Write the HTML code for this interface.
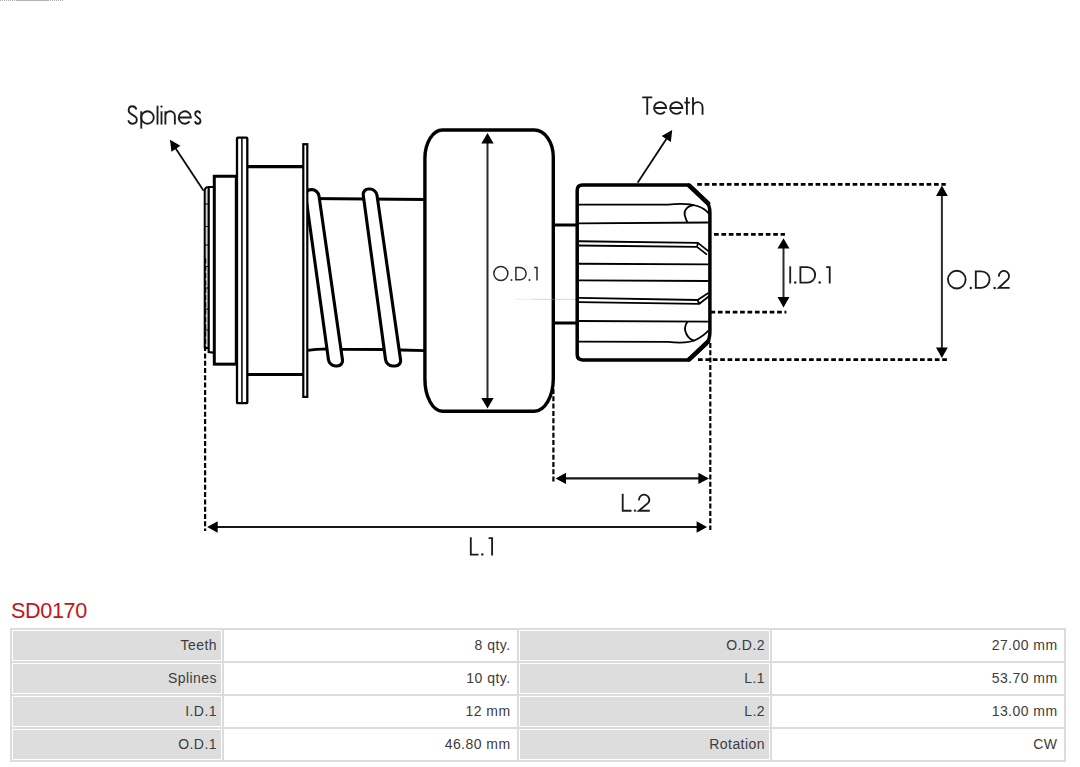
<!DOCTYPE html>
<html><head><meta charset="utf-8"><title>SD0170</title>
<style>
html,body{margin:0;padding:0;background:#fff;}
body{width:1080px;height:767px;position:relative;overflow:hidden;font-family:"Liberation Sans",sans-serif;}
svg{position:absolute;left:0;top:0;}
.title{position:absolute;left:11px;top:598.5px;font-size:21.6px;line-height:24px;color:#c4141a;letter-spacing:-0.35px;white-space:nowrap;}
table{position:absolute;left:10px;top:628px;width:1056px;border:1px solid #dcdcdc;border-spacing:0;border-collapse:separate;table-layout:fixed;font-size:14px;color:#3c3c3c;}
td{box-sizing:border-box;height:33px;border:1px solid #dcdcdc;padding:0 6.5px 1px 0;text-align:right;background:#fff;box-shadow:inset 0 0 0 1px #fff;white-space:nowrap;letter-spacing:0.45px;}
td.k{background:#dddddd;padding-right:5px;}
</style></head>
<body>
<svg width="1080" height="600" viewBox="0 0 1080 600">
<line x1="0" y1="0.5" x2="64" y2="0.5" stroke="#a8a8a8" stroke-width="1" stroke-dasharray="1 1"/><line x1="16" y1="0.5" x2="48" y2="0.5" stroke="#b5b0ab" stroke-width="1"/>

<!-- splined end -->
<rect x="205.4" y="190" width="2.6" height="158" fill="#d4d4d4"/>
<path d="M204.7,348.3 V191.2 Q204.7,187 209,187 H213.5" fill="none" stroke="#000" stroke-width="2"/>
<path d="M208.7,188 V352 L213.5,352.6 M204,348 H208.7" fill="none" stroke="#000" stroke-width="2.2"/>
<path d="M204.7,204h4 M204.7,226.5h4 M204.7,245h4 M204.7,266.5h4 M204.7,288h4 M204.7,309h4 M204.7,330h4" stroke="#000" stroke-width="1.1"/>
<!-- collar -->
<rect x="214.3" y="176.25" width="22" height="187.9" fill="#fff" stroke="#000" stroke-width="3"/>
<!-- hub -->
<path d="M248,166.7 H303 M248,374.5 H303" stroke="#000" stroke-width="3.2" fill="none"/>
<!-- flange 1 -->
<rect x="237" y="137.6" width="10.3" height="265.6" rx="0.8" fill="#fff" stroke="#000" stroke-width="2.3"/>
<line x1="241.9" y1="138" x2="241.9" y2="403" stroke="#111" stroke-width="1.6"/>
<!-- shaft lines -->
<path d="M308,198.4 L425,199.4" stroke="#000" stroke-width="3" fill="none"/>
<path d="M308,350.4 C314,349 320,348.8 328,348.8 L343,349.3 L384,349.5 L401,350 L425,350.7" stroke="#000" stroke-width="2.8" fill="none"/>
<!-- coils -->
<path d="M328.47,359.75 L305.72,195.85 C305.25,192.44 307.65,189.65 311.06,189.65 L311.89,189.65 C315.3,189.65 318.49,192.44 318.98,195.85 L342.46,359.75 C342.95,363.16 340.56,365.95 337.15,365.95 L335.53,365.95 C332.12,365.95 328.94,363.16 328.47,359.75 Z" fill="#fff" stroke="#000" stroke-width="3.1" stroke-linejoin="round"/>
<path d="M385.57,359.75 L363.28,195.25 C362.81,191.84 365.23,189.05 368.64,189.05 L369.91,189.05 C373.32,189.05 376.51,191.84 377,195.25 L400.56,359.75 C401.05,363.16 398.66,365.95 395.25,365.95 L392.61,365.95 C389.2,365.95 386.03,363.16 385.57,359.75 Z" fill="#fff" stroke="#000" stroke-width="3.1" stroke-linejoin="round"/>
<!-- flange 2 -->
<rect x="303.3" y="144.2" width="4" height="252.7" fill="#fff" stroke="#000" stroke-width="2.2"/>
<!-- body -->
<path d="M442.5,130 H534.3 A19,27 0 0 1 553.3,157 V378.5 A19,32.7 0 0 1 534.3,411.2 H442.4 A17.5,32.2 0 0 1 424.9,379 V158.5 A17.6,28.5 0 0 1 442.5,130 Z" fill="#fff" stroke="#000" stroke-width="3.4"/>
<!-- faint guide line -->
<line x1="516" y1="299.3" x2="531" y2="299.3" stroke="#9fb0d0" stroke-width="1" stroke-dasharray="1 1.5" opacity="0.5"/>
<line x1="531" y1="299.3" x2="576" y2="299.3" stroke="#9aa8c4" stroke-width="1" opacity="0.45"/>
<!-- neck -->
<path d="M553,225 H577 M553,322.9 H577" stroke="#000" stroke-width="3" fill="none"/>
<!-- pinion -->
<path d="M582.5,185 L689,185 L706,201 Q709.9,204.8 709.9,213 L709.9,332 Q709.9,340.2 706,344 L689,359.9 L582.5,359.9 Q577.2,359.9 577.2,354.6 L577.2,190.3 Q577.2,185 582.5,185 Z" fill="#fff" stroke="#000" stroke-width="3.5" stroke-linejoin="round"/>
<clipPath id="pc"><rect x="570" y="183.25" width="141.65" height="178.4"/></clipPath>
<path d="M689.2,185.6 L708,203.4 M689.2,359.3 L708,341.6" stroke="#000" stroke-width="4.6" fill="none" stroke-linecap="round" clip-path="url(#pc)"/>
<g fill="none" stroke="#000" stroke-width="1.8" stroke-linejoin="round">
<path d="M579,204.6 L668,204.6 C688,202.6 702,204.5 708.6,213.5"/>
<path d="M694,205 C686.5,206 683.6,211 684.8,215.5 C685.8,219 686.6,221 687.5,222.6"/>
<path d="M579,223.3 L708.4,222.5"/>
<path d="M579,241.25 L698,242.9 L708.6,251.4 M579,245.5 L697,246.9 L707,254.6 M698,242.9 L697,246.9"/>
<path d="M579,263.75 L708.4,264.4"/>
<path d="M579,280.4 L708.4,281"/>
<path d="M579,297.9 L697.5,300 L708.4,293 M579,302.2 L699.4,303.8 L709,296.2 M697.5,300 L699.4,303.8"/>
<path d="M579,321 L708.4,321.6"/>
<path d="M579,341.6 L668,341.8 C680,343.2 690,343 697,339.2 C702,336.5 705.5,334 708.4,330.5"/>
<path d="M687.5,321.5 C685,325 684.4,330 686.4,334 C688.4,338 691,340 694.5,340.6"/>
</g>

<line x1="697.2" y1="184.3" x2="945.8" y2="184.3" stroke="#000" stroke-width="2.75" stroke-dasharray="4.7 2.7"/>
<line x1="698" y1="359.5" x2="947" y2="359.5" stroke="#000" stroke-width="2.75" stroke-dasharray="4.7 2.7"/>
<line x1="714" y1="234.3" x2="785" y2="234.3" stroke="#000" stroke-width="2.75" stroke-dasharray="4.7 2.7"/>
<line x1="710.5" y1="312" x2="786.4" y2="312" stroke="#000" stroke-width="2.75" stroke-dasharray="4.7 2.7"/>
<line x1="205.1" y1="258.5" x2="205.1" y2="531" stroke="#000" stroke-width="2.2" stroke-dasharray="5 2.3"/>
<line x1="553.4" y1="389" x2="553.4" y2="483" stroke="#000" stroke-width="2.2" stroke-dasharray="5 2.3"/>
<line x1="710.3" y1="343" x2="710.3" y2="530" stroke="#000" stroke-width="2.2" stroke-dasharray="5 2.3"/>
<line x1="487.5" y1="142.6" x2="487.5" y2="399" stroke="#2b2b2b" stroke-width="2"/><polygon points="487.5,408.5 481.3,398 493.7,398" fill="#000"/><polygon points="487.5,133.1 493.7,143.6 481.3,143.6" fill="#000"/>
<line x1="941.9" y1="195" x2="941.9" y2="348.5" stroke="#2b2b2b" stroke-width="2"/><polygon points="941.9,357.9 936,347.5 947.8,347.5" fill="#000"/><polygon points="941.9,185.6 947.8,196 936,196" fill="#000"/>
<line x1="783.5" y1="247.6" x2="783.5" y2="298.1" stroke="#2b2b2b" stroke-width="2"/><polygon points="783.5,307.4 777.5,297.1 789.5,297.1" fill="#000"/><polygon points="783.5,238.3 789.5,248.6 777.5,248.6" fill="#000"/>
<line x1="565" y1="478.4" x2="699.4" y2="478.4" stroke="#161616" stroke-width="2.1"/><polygon points="708.9,478.4 698.4,484.1 698.4,472.7" fill="#000"/><polygon points="555.5,478.4 566,472.7 566,484.1" fill="#000"/>
<line x1="216.7" y1="527" x2="697.6" y2="527" stroke="#161616" stroke-width="2.1"/><polygon points="707.1,527 696.6,532.8 696.6,521.2" fill="#000"/><polygon points="207.2,527 217.7,521.2 217.7,532.8" fill="#000"/>
<line x1="203.6" y1="190.8" x2="175.39" y2="147.94" stroke="#0a0a0a" stroke-width="1.8"/><polygon points="170,139.75 180.45,145.8 171.43,151.74" fill="#000"/>
<line x1="637.6" y1="182.8" x2="666.83" y2="138.2" stroke="#0a0a0a" stroke-width="1.8"/><polygon points="672.2,130 670.88,142.05 661.68,136.02" fill="#000"/>
<g fill="none" stroke="#1c1c1c" color="#1c1c1c" stroke-width="1.85" stroke-linecap="butt" stroke-linejoin="miter"><path d="M136.38,109.58 C135.78,107.3 134.25,106.25 132.38,106.25 C130,106.25 128.64,108 128.64,110.45 C128.64,112.72 130.34,113.78 132.55,114.83 C135.1,116.05 136.8,117.1 136.8,119.55 C136.8,122.17 134.93,123.75 132.55,123.75 C130.34,123.75 128.81,122.35 128.3,120.25"/><path d="M141.25,111.25 V128.6"/><ellipse cx="147.5" cy="117.5" rx="6.25" ry="6.25"/><path d="M157.5,105.65 V124.55"/><path d="M161.5,111.25 V124.55"/><circle cx="161.5" cy="106.6" r="1.15" fill="currentColor" stroke="none"/><path d="M165.4,111.25 V124.55 M165.4,115.97 A4.72,4.72 0 0 1 174.85,115.97 V124.55"/><path d="M178.75,117.5 H190.85 A6.05,6.25 0 1 0 189.57,121.35"/><path d="M200.22,113.62 C199.84,112 198.85,111.25 197.64,111.25 C196.1,111.25 195.22,112.5 195.22,114.25 C195.22,115.88 196.32,116.62 197.75,117.38 C199.4,118.25 200.5,119 200.5,120.75 C200.5,122.62 199.29,123.75 197.75,123.75 C196.32,123.75 195.33,122.75 195,121.25"/></g>
<g fill="none" stroke="#1c1c1c" color="#1c1c1c" stroke-width="1.85" stroke-linecap="butt" stroke-linejoin="miter"><path d="M642.2,97.35 H652.3 M647.25,97.35 V114.65"/><path d="M654.05,108 H666.15 A6.05,5.85 0 1 0 664.87,111.6"/><path d="M670.15,108 H682.35 A6.1,5.85 0 1 0 681.06,111.6"/><path d="M686.9,97.35 V114.65 M684.3,102.6 H689.9"/><path d="M693,97.35 V114.65 M693,106.92 A4.77,4.77 0 0 1 702.55,106.92 V114.65"/></g>
<g fill="none" stroke="#1c1c1c" color="#1c1c1c" stroke-width="1.85" stroke-linecap="butt" stroke-linejoin="miter"><ellipse cx="956.8" cy="279.6" rx="8.85" ry="8.85"/><circle cx="970.8" cy="287.9" r="1.25" fill="currentColor" stroke="none"/><path d="M975.8,271.3 H981.3 A8.25,8.25 0 0 1 981.3,287.8 H975.8 Z"/><circle cx="994.6" cy="287.9" r="1.25" fill="currentColor" stroke="none"/><path d="M998.9,276.6 A5.1,5.1 0 1 1 1008.02,279.14 L998.8,287.8 H1009.6"/></g>
<g fill="none" stroke="#1c1c1c" color="#1c1c1c" stroke-width="1.85" stroke-linecap="butt" stroke-linejoin="miter"><path d="M790.2,266.35 V283.45"/><circle cx="795.2" cy="282.5" r="1.2" fill="currentColor" stroke="none"/><path d="M800.4,267.15 H807.4 A7.75,7.75 0 0 1 807.4,282.65 H800.4 Z"/><circle cx="819.7" cy="282.5" r="1.2" fill="currentColor" stroke="none"/><path d="M826.2,267.15 H829.7 V283.45"/></g>
<g fill="none" stroke="#2a2a2a" color="#2a2a2a" stroke-width="1.5" stroke-linecap="butt" stroke-linejoin="miter"><ellipse cx="500.85" cy="273.5" rx="7" ry="7"/><circle cx="511.5" cy="280.1" r="1" fill="currentColor" stroke="none"/><path d="M515.9,267.5 H519.95 A6.15,6.15 0 0 1 519.95,279.8 H515.9 Z"/><circle cx="529.5" cy="280.1" r="1" fill="currentColor" stroke="none"/><path d="M534.2,267.5 H537 V280.5"/></g>
<g fill="none" stroke="#1c1c1c" color="#1c1c1c" stroke-width="1.85" stroke-linecap="butt" stroke-linejoin="miter"><path d="M622.7,493.7 V510.75 H631.5"/><circle cx="635" cy="510.6" r="1.2" fill="currentColor" stroke="none"/><path d="M639,500.35 A5.15,5.15 0 1 1 648.21,502.92 L638.9,510.75 H649.8"/></g>
<g fill="none" stroke="#1c1c1c" color="#1c1c1c" stroke-width="1.85" stroke-linecap="butt" stroke-linejoin="miter"><path d="M470.8,537.3 V554.55 H478.5"/><circle cx="482.3" cy="554.4" r="1.2" fill="currentColor" stroke="none"/><path d="M488.6,538.1 H492.1 V555.4"/></g>
</svg>
<div class="title">SD0170</div>
<table>
<colgroup><col style="width:212px"><col style="width:295px"><col style="width:253px"><col style="width:294px"></colgroup>
<tr><td class="k">Teeth</td><td class="v">8 qty.</td><td class="k">O.D.2</td><td class="v">27.00 mm</td></tr>
<tr><td class="k">Splines</td><td class="v">10 qty.</td><td class="k">L.1</td><td class="v">53.70 mm</td></tr>
<tr><td class="k">I.D.1</td><td class="v">12 mm</td><td class="k">L.2</td><td class="v">13.00 mm</td></tr>
<tr><td class="k">O.D.1</td><td class="v">46.80 mm</td><td class="k">Rotation</td><td class="v">CW</td></tr>
</table>
</body></html>
